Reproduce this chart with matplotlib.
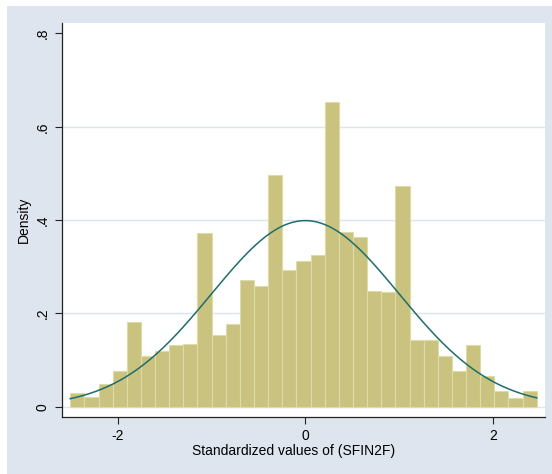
import numpy as np
import matplotlib.pyplot as plt
from matplotlib.patches import Rectangle

plt.rcParams['font.family'] = ['Liberation Sans Narrow', 'Liberation Sans', 'DejaVu Sans']

# histogram of the standardized variable (density scale)
bin_start = -2.506
bin_width = 0.1507
density = [0.029, 0.021, 0.049, 0.076, 0.182, 0.108, 0.120, 0.132, 0.134, 0.372,
           0.154, 0.178, 0.271, 0.259, 0.497, 0.293, 0.312, 0.325, 0.653, 0.374,
           0.364, 0.248, 0.245, 0.473, 0.144, 0.144, 0.109, 0.077, 0.132, 0.066,
           0.033, 0.019, 0.034]

y_ticks = [0, 0.2, 0.4, 0.6, 0.8]
y_ticklabels = ['0', '.2', '.4', '.6', '.8']
x_ticks = [-2, 0, 2]
x_ticklabels = ['-2', '0', '2']

bar_color = '#c9c37f'
edge_color = '#dfdba8'
curve_color = '#1f6e6a'
grid_color = '#dde4ef'
bg_color = '#dfe5ef'

fig = plt.figure(figsize=(5.52, 4.74), dpi=100, facecolor='white')
fig.patches.append(Rectangle((7 / 552, 0), 1 - 7 / 552, 1 - 6 / 474,
                             transform=fig.transFigure, facecolor=bg_color,
                             edgecolor='none', zorder=-10))

ax = fig.add_axes([62 / 552, 1 - 417 / 474, (545 - 62) / 552, (417 - 23) / 474])
ax.set_facecolor('white')

left_edges = bin_start + bin_width * np.arange(len(density))
ax.bar(left_edges, density, width=bin_width, align='edge',
       color=bar_color, edgecolor=edge_color, linewidth=0.8, zorder=2)

# normal density overlay
xs = np.linspace(bin_start, bin_start + bin_width * len(density), 300)
ax.plot(xs, np.exp(-xs ** 2 / 2) / np.sqrt(2 * np.pi), color=curve_color,
        linewidth=1.1, zorder=3)

for t in y_ticks[:-1]:
    ax.axhline(t, color=grid_color, linewidth=1.0, zorder=1)

ax.set_xlim(-2.594, 2.555)
ax.set_ylim(-0.022, 0.8225)

ax.set_yticks(y_ticks)
ax.set_yticklabels(y_ticklabels, rotation=90, va='center')
ax.set_xticks(x_ticks)
ax.set_xticklabels(x_ticklabels)
ax.tick_params(axis='both', length=5, width=0.8, color='#222222',
               labelsize=10, pad=4, labelcolor='black')

for side in ['top', 'right']:
    ax.spines[side].set_visible(False)
for side in ['left', 'bottom']:
    ax.spines[side].set_color('#222222')
    ax.spines[side].set_linewidth(0.9)

ax.set_xlabel('Standardized values of (SFIN2F)', fontsize=10)
ax.xaxis.set_label_coords(0.48, -0.068)
ax.set_ylabel('Density', fontsize=10, labelpad=3)

fig.savefig('out.png', dpi=100, facecolor=fig.get_facecolor())
